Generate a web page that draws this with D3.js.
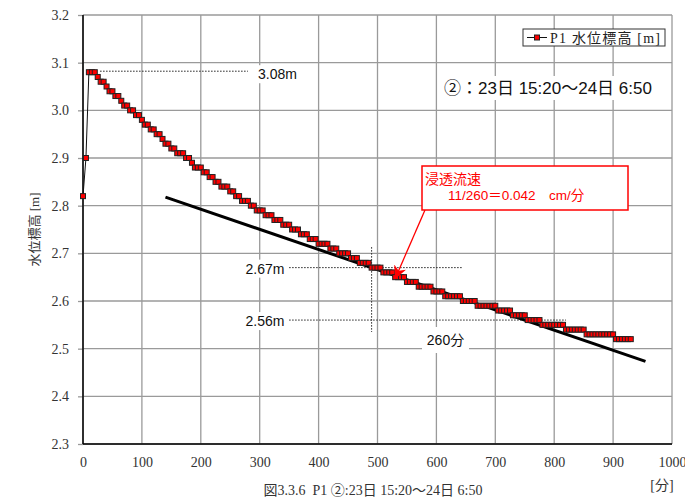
<!DOCTYPE html>
<html><head><meta charset="utf-8">
<script src="https://cdn.jsdelivr.net/npm/d3@7"></script>
<style>body{margin:0;background:#fff}</style>
</head><body>
<svg id="c" width="685" height="502"></svg>
<script>
// ---- data ----
const stepMinutes = 5; // one reading every 5 minutes, starting at 0
const waterLevel = [
  2.82, 2.90,
  3.08, 3.08, 3.08, 3.07, 3.06, 3.06, 3.05, 3.04, 3.04, 3.03, 3.03, 3.02, 3.01, 3.01,
  3.00, 3.00, 2.99, 2.99, 2.98, 2.97, 2.97, 2.96, 2.96, 2.95, 2.95, 2.94, 2.93, 2.93,
  2.92, 2.92, 2.91, 2.91, 2.91, 2.90, 2.90, 2.89, 2.88, 2.88, 2.88, 2.87, 2.87, 2.86,
  2.86, 2.85, 2.85, 2.84, 2.84, 2.84, 2.83, 2.83, 2.82, 2.82, 2.81, 2.81, 2.81, 2.80,
  2.80, 2.79, 2.79, 2.79, 2.78, 2.78, 2.78, 2.77, 2.77, 2.77, 2.76, 2.76, 2.76, 2.75,
  2.75, 2.75, 2.74, 2.74, 2.74, 2.73, 2.73, 2.73, 2.72, 2.72, 2.72, 2.72, 2.71, 2.71,
  2.71, 2.70, 2.70, 2.70, 2.70, 2.69, 2.69, 2.69, 2.68, 2.68, 2.68, 2.68, 2.67, 2.67,
  2.67, 2.67, 2.66, 2.66, 2.66, 2.66, 2.65, 2.65, 2.65, 2.65, 2.64, 2.64, 2.64, 2.64,
  2.63, 2.63, 2.63, 2.63, 2.63, 2.62, 2.62, 2.62, 2.62, 2.61, 2.61, 2.61, 2.61, 2.61,
  2.61, 2.60, 2.60, 2.60, 2.60, 2.60, 2.59, 2.59, 2.59, 2.59, 2.59, 2.59, 2.59, 2.58,
  2.58, 2.58, 2.58, 2.58, 2.57, 2.57, 2.57, 2.57, 2.57, 2.56, 2.56, 2.56, 2.56, 2.56,
  2.55, 2.55, 2.55, 2.55, 2.55, 2.55, 2.55, 2.55, 2.54, 2.54, 2.54, 2.54, 2.54, 2.54,
  2.54, 2.53, 2.53, 2.53, 2.53, 2.53, 2.53, 2.53, 2.53, 2.53, 2.53, 2.52, 2.52, 2.52,
  2.52, 2.52, 2.52
];
const xTickValues = [0, 100, 200, 300, 400, 500, 600, 700, 800, 900, 1000];
const yTickValues = [2.3, 2.4, 2.5, 2.6, 2.7, 2.8, 2.9, 3.0, 3.1, 3.2];
const trendT = [140, 955];
const trendV = [2.818, 2.4733];
const peakLevel = 3.08;
const level1 = 2.67, level2 = 2.56;
const startT = 490, spanMinutes = 260;
const seriesName = "P1 水位標高 [m]";
const periodText = "②：23日 15:20～24日 6:50";
const captionText = "図3.3.6\u00a0\u00a0P1 ②:23日 15:20～24日 6:50";

// ---- drawing ----
const svg = d3.select('#c');
svg.append('rect').attr('width',685).attr('height',502).attr('fill','#fff');
const x = d3.scaleLinear().domain([0,1000]).range([83,672]);
const y = d3.scaleLinear().domain([2.3,3.2]).range([444,15]);
const serif = "'Liberation Serif','Noto Sans CJK JP',serif";
const sans = "'Liberation Sans','Noto Sans CJK JP',sans-serif";
const gridColor = '#9a9a9a';

// grid
const grid = svg.append('g');
grid.selectAll('.gx').data(xTickValues).join('line')
  .attr('x1',d=>x(d)).attr('x2',d=>x(d)).attr('y1',y(3.2)).attr('y2',y(2.3))
  .attr('stroke',gridColor).attr('stroke-width',1.3);
grid.selectAll('.gy').data(yTickValues).join('line')
  .attr('x1',x(0)).attr('x2',x(1000)).attr('y1',d=>y(d)).attr('y2',d=>y(d))
  .attr('stroke',gridColor).attr('stroke-width',1.3);

// axes
const yAxis = svg.append('g').attr('transform',`translate(${x(0)},0)`)
  .call(d3.axisLeft(y).tickValues(yTickValues).tickFormat(d3.format('.1f')).tickSize(5).tickPadding(9).tickSizeOuter(0));
yAxis.select('.domain').remove();
yAxis.selectAll('line').attr('stroke',gridColor).attr('stroke-width',1.3);
yAxis.selectAll('text').attr('font-family',serif).attr('font-size',14).attr('fill','#333');
const xAxis = svg.append('g').attr('transform',`translate(0,${y(2.3)})`)
  .call(d3.axisBottom(x).tickValues(xTickValues).tickFormat(d3.format('d')).tickSize(0).tickPadding(13));
xAxis.select('.domain').remove();
xAxis.selectAll('text').attr('font-family',serif).attr('font-size',14).attr('fill','#333');

svg.append('line').attr('x1',x(0)).attr('x2',x(0)).attr('y1',y(3.2)).attr('y2',y(2.3)).attr('stroke','#000').attr('stroke-width',1.5);
svg.append('line').attr('x1',x(0)).attr('x2',x(1000)).attr('y1',y(2.3)).attr('y2',y(2.3)).attr('stroke','#000').attr('stroke-width',1.5);

// axis titles
svg.append('text').attr('transform',`translate(39,${y(2.75)}) rotate(-90)`).attr('text-anchor','middle')
  .attr('font-family',serif).attr('font-size',13).attr('fill','#333').text('水位標高 [m]');
svg.append('text').attr('x',662).attr('y',490).attr('text-anchor','middle')
  .attr('font-family',serif).attr('font-size',14).attr('fill','#333').text('[分]');
svg.append('text').attr('x',373).attr('y',495).attr('text-anchor','middle')
  .attr('font-family',serif).attr('font-size',14).attr('fill','#333').text(captionText);

// dotted reference lines
const dots = svg.append('g').attr('stroke','#222').attr('stroke-width',1).attr('stroke-dasharray','1.5,1.5');
dots.append('line').attr('x1',x(29)).attr('x2',x(280)).attr('y1',y(peakLevel)-1).attr('y2',y(peakLevel)-1);
dots.append('line').attr('x1',x(350)).attr('x2',x(643)).attr('y1',y(level1)).attr('y2',y(level1));
dots.append('line').attr('x1',x(350)).attr('x2',x(820)).attr('y1',y(level2)).attr('y2',y(level2));
dots.append('line').attr('x1',x(startT)).attr('x2',x(startT)).attr('y1',y(2.713)).attr('y2',y(2.535));

// labels with white backgrounds
function bgLabel(cx, cy, w, h, txt, size){
  svg.append('rect').attr('x',cx).attr('y',cy-h/2).attr('width',w).attr('height',h).attr('fill','#fff');
  svg.append('text').attr('x',cx+w/2).attr('y',cy).attr('dy','0.35em').attr('text-anchor','middle')
    .attr('font-family',sans).attr('font-size',size).attr('fill','#111').text(txt);
}
bgLabel(254, y(peakLevel)+2, 47, 18, peakLevel.toFixed(2)+'m', 14);
bgLabel(242, y(level1)+1, 46, 18, level1.toFixed(2)+'m', 14);
bgLabel(242, y(level2)+1, 46, 18, level2.toFixed(2)+'m', 14);
bgLabel(422, 340, 47, 26, spanMinutes+'分', 14);

// period text
svg.append('rect').attr('x',442).attr('y',76).attr('width',213).attr('height',24).attr('fill','#fff');
svg.append('text').attr('x',444).attr('y',94).attr('font-family',sans).attr('font-size',17).attr('fill','#111').text(periodText);

// trend line
svg.append('line').attr('x1',x(trendT[0])).attr('y1',y(trendV[0])).attr('x2',x(trendT[1])).attr('y2',y(trendV[1]))
  .attr('stroke','#000').attr('stroke-width',3);

// series
const pts = waterLevel.map((v,i)=>({t:i*stepMinutes, v}));
svg.append('path').datum(pts).attr('fill','none').attr('stroke','#111').attr('stroke-width',1)
  .attr('d',d3.line().x(d=>x(d.t)).y(d=>y(d.v)));
svg.append('g').selectAll('rect').data(pts).join('rect')
  .attr('x',d=>x(d.t)-2.5).attr('y',d=>y(d.v)-2.5).attr('width',5).attr('height',5)
  .attr('fill','#ff0000').attr('stroke','#222').attr('stroke-width',1);

// red annotation box + arrow
svg.append('defs').append('marker').attr('id','ah').attr('viewBox','0 0 10 10').attr('refX',10).attr('refY',5)
  .attr('markerWidth',13).attr('markerHeight',13).attr('markerUnits','userSpaceOnUse').attr('orient','auto')
  .append('path').attr('d','M0,0 L10,5 L0,10 L3,5 Z').attr('fill','#ff0000');
svg.append('line').attr('x1',425).attr('y1',210).attr('x2',395).attr('y2',279)
  .attr('stroke','#ff0000').attr('stroke-width',1.3).attr('marker-end','url(#ah)');
svg.append('rect').attr('x',422).attr('y',166).attr('width',206).attr('height',44)
  .attr('fill','#fff').attr('stroke','#ff0000').attr('stroke-width',1.5);
svg.append('text').attr('x',425).attr('y',184).attr('font-family',sans).attr('font-size',14).attr('fill','#ff0000').text('浸透流速');
svg.append('text').attr('x',448).attr('y',200).attr('font-family',sans).attr('font-size',13.5).attr('fill','#ff0000')
  .text('11/' + spanMinutes + '＝0.042　cm/分');

// legend
const lg = svg.append('g');
lg.append('rect').attr('x',523).attr('y',29).attr('width',142).attr('height',17).attr('fill','#fff').attr('stroke','#333').attr('stroke-width',1);
lg.append('line').attr('x1',527).attr('x2',547).attr('y1',37.5).attr('y2',37.5).attr('stroke','#111').attr('stroke-width',1);
lg.append('rect').attr('x',534.5).attr('y',35).attr('width',5).attr('height',5).attr('fill','#ff0000').attr('stroke','#222').attr('stroke-width',1);
lg.append('text').attr('x',550).attr('y',42.5).attr('font-family',serif).attr('font-size',14).attr('fill','#222')
  .attr('textLength',110).text(seriesName);
</script>
</body></html>
